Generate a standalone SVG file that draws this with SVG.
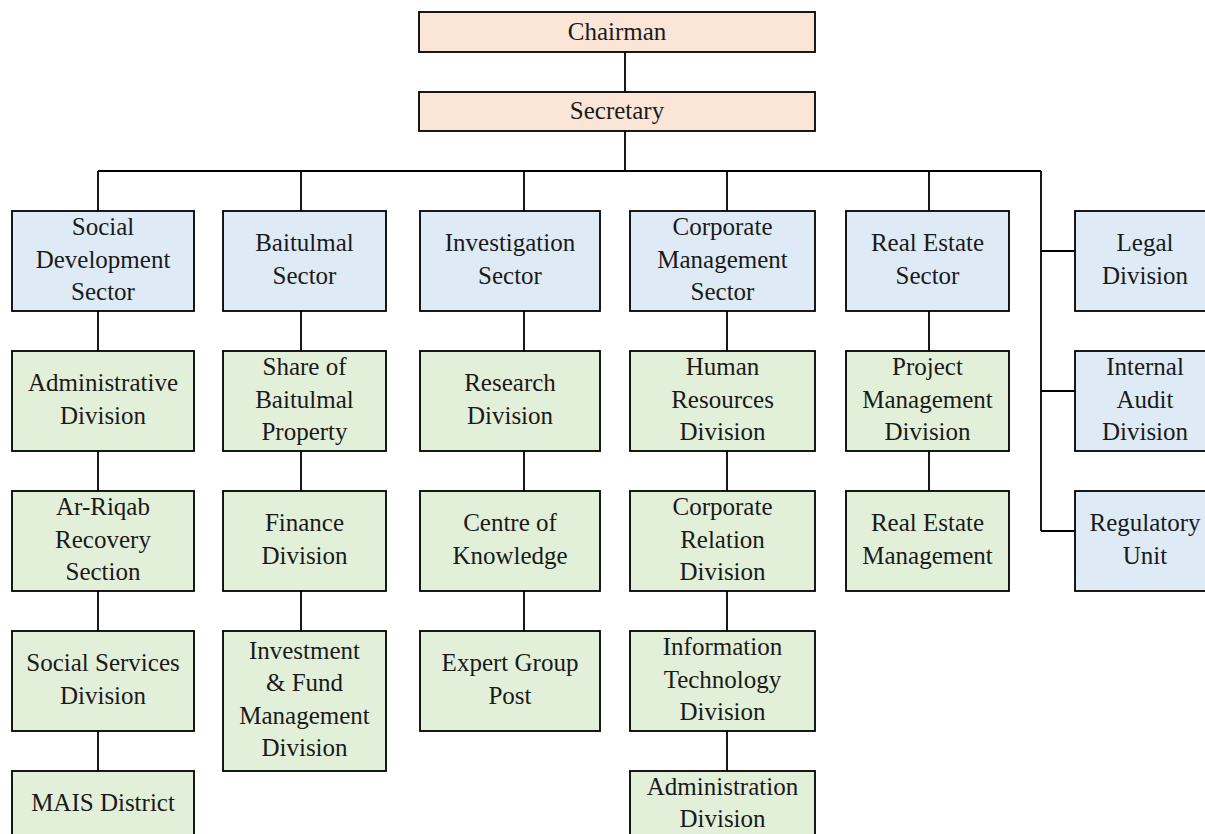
<svg xmlns="http://www.w3.org/2000/svg" width="1205" height="834" viewBox="0 0 1205 834">
<style>
.p,.b,.g{stroke:#000;stroke-width:1.8}
.p{fill:#FBE5D6}.b{fill:#DEEBF7}.g{fill:#E2F0D9}
text{font-family:"Liberation Serif","Times New Roman",serif;font-size:25px;fill:#1a1a1a;text-anchor:middle}
#connectors path{stroke:#000;stroke-width:1.8;fill:none}
</style>
<rect x="0" y="0" width="1205" height="834" fill="#ffffff"/>
<g id="connectors">
<path d="M625 52V92M625 131V171M98 171H1041M98 171V211M301 171V211M524 171V211M727 171V211M929 171V211M1041 171V531M1041 251H1075M1041 391H1075M1041 531H1075"/>
<path d="M98 311V351M98 451V491M98 591V631M98 731V771"/>
<path d="M301 311V351M301 451V491M301 591V631"/>
<path d="M524 311V351M524 451V491M524 591V631"/>
<path d="M727 311V351M727 451V491M727 591V631M727 731V771"/>
<path d="M929 311V351M929 451V491"/>
</g>
<g id="chairman"><rect class="p" x="419" y="12" width="396" height="40"/><text x="617" y="39.5">Chairman</text></g>
<g id="secretary"><rect class="p" x="419" y="92" width="396" height="39"/><text x="617" y="118.5">Secretary</text></g>

<g id="social-development-sector"><rect class="b" x="12" y="211" width="182" height="100"/><text x="103" y="235"><tspan x="103">Social</tspan><tspan x="103" dy="32.5">Development</tspan><tspan x="103" dy="32.5">Sector</tspan></text></g>
<g id="administrative-division"><rect class="g" x="12" y="351" width="182" height="100"/><text x="103" y="391.25"><tspan x="103">Administrative</tspan><tspan x="103" dy="32.5">Division</tspan></text></g>
<g id="ar-riqab"><rect class="g" x="12" y="491" width="182" height="100"/><text x="103" y="515"><tspan x="103">Ar-Riqab</tspan><tspan x="103" dy="32.5">Recovery</tspan><tspan x="103" dy="32.5">Section</tspan></text></g>
<g id="social-services"><rect class="g" x="12" y="631" width="182" height="100"/><text x="103" y="671.25"><tspan x="103">Social Services</tspan><tspan x="103" dy="32.5">Division</tspan></text></g>
<g id="mais-district"><rect class="g" x="12" y="771" width="182" height="67"/><text x="103" y="811">MAIS District</text></g>

<g id="baitulmal-sector"><rect class="b" x="223" y="211" width="163" height="100"/><text x="304.5" y="251.25"><tspan x="304.5">Baitulmal</tspan><tspan x="304.5" dy="32.5">Sector</tspan></text></g>
<g id="share-of-baitulmal"><rect class="g" x="223" y="351" width="163" height="100"/><text x="304.5" y="375"><tspan x="304.5">Share of</tspan><tspan x="304.5" dy="32.5">Baitulmal</tspan><tspan x="304.5" dy="32.5">Property</tspan></text></g>
<g id="finance-division"><rect class="g" x="223" y="491" width="163" height="100"/><text x="304.5" y="531.25"><tspan x="304.5">Finance</tspan><tspan x="304.5" dy="32.5">Division</tspan></text></g>
<g id="investment-fund"><rect class="g" x="223" y="631" width="163" height="140"/><text x="304.5" y="658.75"><tspan x="304.5">Investment</tspan><tspan x="304.5" dy="32.5">&amp; Fund</tspan><tspan x="304.5" dy="32.5">Management</tspan><tspan x="304.5" dy="32.5">Division</tspan></text></g>

<g id="investigation-sector"><rect class="b" x="420" y="211" width="180" height="100"/><text x="510" y="251.25"><tspan x="510">Investigation</tspan><tspan x="510" dy="32.5">Sector</tspan></text></g>
<g id="research-division"><rect class="g" x="420" y="351" width="180" height="100"/><text x="510" y="391.25"><tspan x="510">Research</tspan><tspan x="510" dy="32.5">Division</tspan></text></g>
<g id="centre-of-knowledge"><rect class="g" x="420" y="491" width="180" height="100"/><text x="510" y="531.25"><tspan x="510">Centre of</tspan><tspan x="510" dy="32.5">Knowledge</tspan></text></g>
<g id="expert-group-post"><rect class="g" x="420" y="631" width="180" height="100"/><text x="510" y="671.25"><tspan x="510">Expert Group</tspan><tspan x="510" dy="32.5">Post</tspan></text></g>

<g id="corporate-management-sector"><rect class="b" x="630" y="211" width="185" height="100"/><text x="722.5" y="235"><tspan x="722.5">Corporate</tspan><tspan x="722.5" dy="32.5">Management</tspan><tspan x="722.5" dy="32.5">Sector</tspan></text></g>
<g id="human-resources"><rect class="g" x="630" y="351" width="185" height="100"/><text x="722.5" y="375"><tspan x="722.5">Human</tspan><tspan x="722.5" dy="32.5">Resources</tspan><tspan x="722.5" dy="32.5">Division</tspan></text></g>
<g id="corporate-relation"><rect class="g" x="630" y="491" width="185" height="100"/><text x="722.5" y="515"><tspan x="722.5">Corporate</tspan><tspan x="722.5" dy="32.5">Relation</tspan><tspan x="722.5" dy="32.5">Division</tspan></text></g>
<g id="information-technology"><rect class="g" x="630" y="631" width="185" height="100"/><text x="722.5" y="655"><tspan x="722.5">Information</tspan><tspan x="722.5" dy="32.5">Technology</tspan><tspan x="722.5" dy="32.5">Division</tspan></text></g>
<g id="administration-division"><rect class="g" x="630" y="771" width="185" height="67"/><text x="722.5" y="794.75"><tspan x="722.5">Administration</tspan><tspan x="722.5" dy="32.5">Division</tspan></text></g>

<g id="real-estate-sector"><rect class="b" x="846" y="211" width="163" height="100"/><text x="927.5" y="251.25"><tspan x="927.5">Real Estate</tspan><tspan x="927.5" dy="32.5">Sector</tspan></text></g>
<g id="project-management"><rect class="g" x="846" y="351" width="163" height="100"/><text x="927.5" y="375"><tspan x="927.5">Project</tspan><tspan x="927.5" dy="32.5">Management</tspan><tspan x="927.5" dy="32.5">Division</tspan></text></g>
<g id="real-estate-management"><rect class="g" x="846" y="491" width="163" height="100"/><text x="927.5" y="531.25"><tspan x="927.5">Real Estate</tspan><tspan x="927.5" dy="32.5">Management</tspan></text></g>

<g id="legal-division"><rect class="b" x="1075" y="211" width="140" height="100"/><text x="1145" y="251.25"><tspan x="1145">Legal</tspan><tspan x="1145" dy="32.5">Division</tspan></text></g>
<g id="internal-audit"><rect class="b" x="1075" y="351" width="140" height="100"/><text x="1145" y="375"><tspan x="1145">Internal</tspan><tspan x="1145" dy="32.5">Audit</tspan><tspan x="1145" dy="32.5">Division</tspan></text></g>
<g id="regulatory-unit"><rect class="b" x="1075" y="491" width="140" height="100"/><text x="1145" y="531.25"><tspan x="1145">Regulatory</tspan><tspan x="1145" dy="32.5">Unit</tspan></text></g>
</svg>
